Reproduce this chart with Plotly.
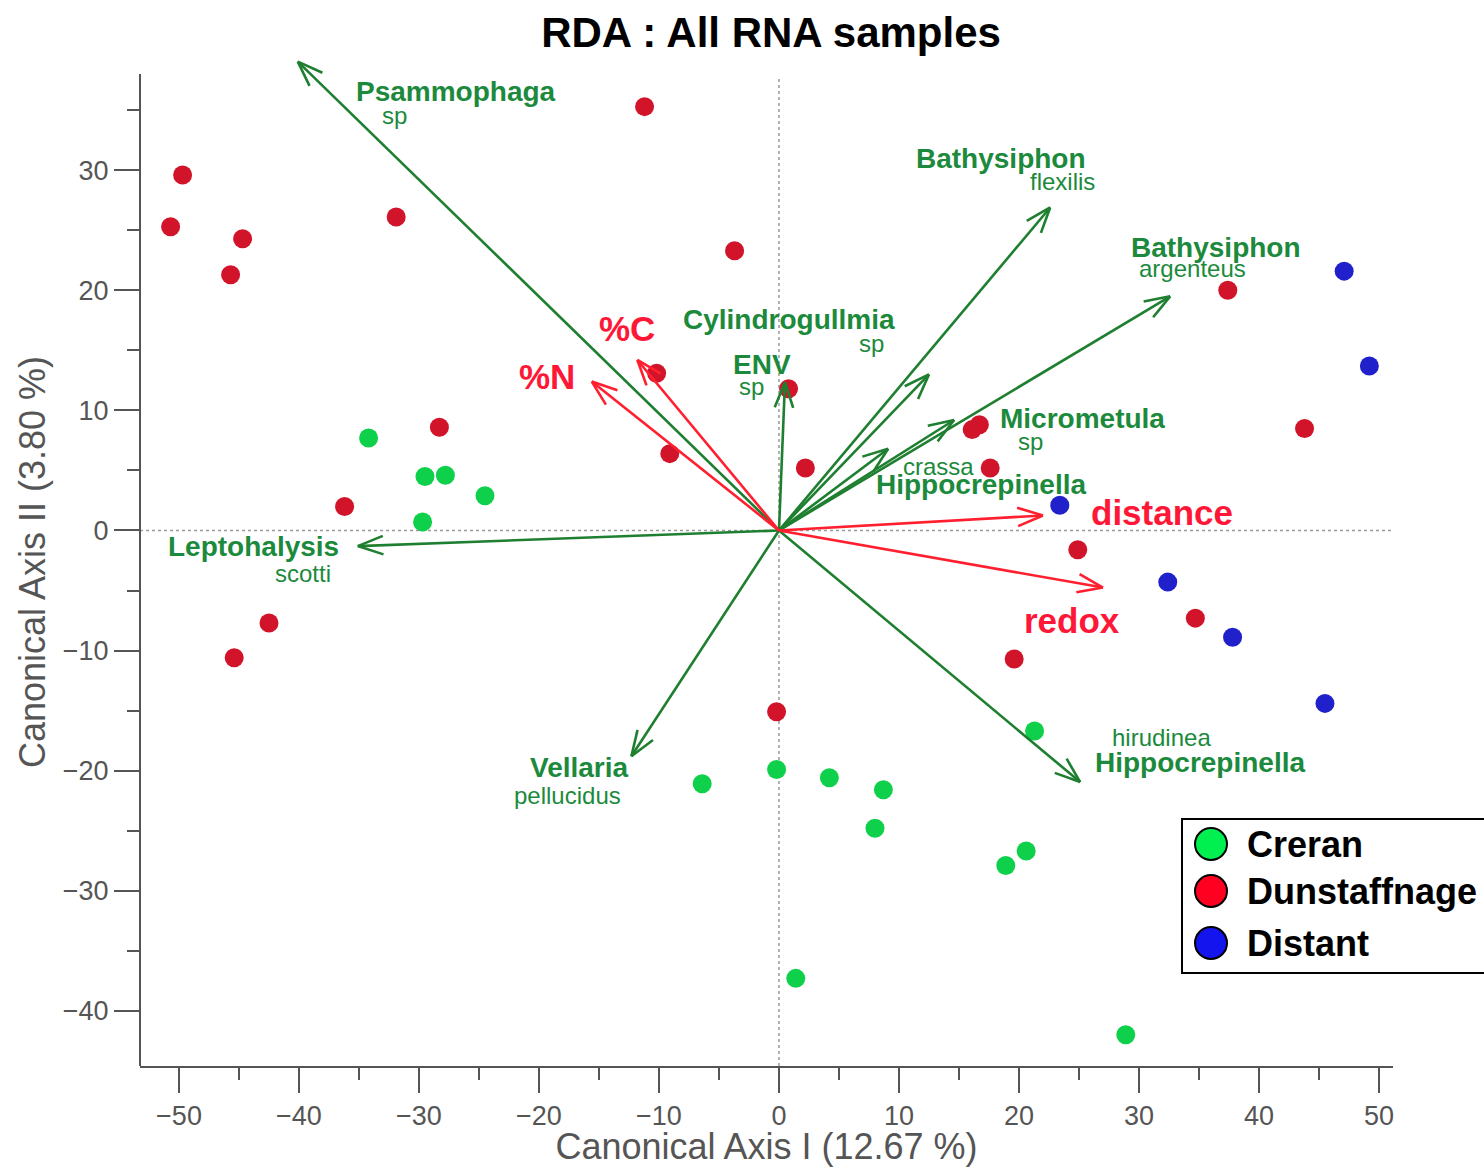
import math
import plotly.graph_objects as go

# ---------------- data ----------------
categories = ["Creran", "Dunstaffnage", "Distant"]

creran_x = [-34.2, -29.5, -27.8, -24.5, -29.7, -6.4, -0.2, 4.2, 8.7, 8.0, 21.3, 18.9, 20.6, 1.4, 28.9]
creran_y = [7.7, 4.5, 4.6, 2.9, 0.7, -21.1, -19.9, -20.6, -21.6, -24.8, -16.7, -27.9, -26.7, -37.3, -42.0]

dun_x = [-49.7, -50.7, -44.7, -45.7, -31.9, -11.2, -3.7, -10.2, 0.8, -28.3, -9.1, 2.2,
         16.1, 16.7, 17.6, 37.4, 43.8, 24.9, 34.7, 19.6, -0.2, -36.2, -42.5, -45.4]
dun_y = [29.6, 25.3, 24.3, 21.3, 26.1, 35.3, 23.3, 13.1, 11.8, 8.6, 6.4, 5.2,
         8.4, 8.8, 5.2, 20.0, 8.5, -1.6, -7.3, -10.7, -15.1, 2.0, -7.7, -10.6]

dist_x = [47.1, 49.2, 23.4, 32.4, 37.8, 45.5]
dist_y = [21.6, 13.7, 2.1, -4.3, -8.9, -14.4]

# species arrows (biplot scores)
species_genus = ["Psammophaga", "Bathysiphon", "Bathysiphon", "Cylindrogullmia", "ENV",
                 "Micrometula", "Hippocrepinella", "Leptohalysis", "Vellaria", "Hippocrepinella"]
species_epithet = ["sp", "flexilis", "argenteus", "sp", "sp",
                   "sp", "crassa", "scotti", "pellucidus", "hirudinea"]
species_x = [-40.1, 22.6, 32.6, 12.5, 0.5, 14.6, 9.1, -35.1, -12.3, 25.1]
species_y = [39.05, 26.9, 19.5, 13.0, 12.35, 9.2, 6.8, -1.3, -18.8, -20.95]

# environmental arrows
env_names = ["%N", "%C", "distance", "redox"]
env_x = [-15.6, -11.8, 22.0, 27.0]
env_y = [12.4, 14.2, 1.25, -4.75]

x_ticks = [-50, -40, -30, -20, -10, 0, 10, 20, 30, 40, 50]
y_ticks = [-40, -30, -20, -10, 0, 10, 20, 30]

# ---------------- styles / layout helpers ----------------
GREEN_ARROW = "#1f7f30"
GREEN_TEXT = "#1c8a3c"
RED_ARROW = "#ff1f2e"
RED_TEXT = "#ff1738"
AXIS_GREY = "#555555"
FONT = "Liberation Sans, Arial, sans-serif"

point_colors = {"Creran": "#0fd04a", "Dunstaffnage": "#d2142a", "Distant": "#2121cc"}
legend_colors = {"Creran": "#00f050", "Dunstaffnage": "#ff0020", "Distant": "#1414ee"}

# label placement (data coords): (genus pos, epithet pos)
species_label_pos = [
    ((-26.9, 36.6), (-32.0, 34.6)),
    ((18.5, 31.0), (23.6, 29.1)),
    ((36.4, 23.6), (34.5, 21.8)),
    ((0.8, 17.6), (7.7, 15.6)),
    ((-1.4, 13.8), (-2.3, 12.0)),
    ((25.3, 9.3), (21.0, 7.4)),
    ((16.8, 3.8), (13.3, 5.3)),
    ((-43.8, -1.3), (-39.7, -3.6)),
    ((-16.6, -19.7), (-17.6, -22.1)),
    ((35.1, -19.3), (31.9, -17.2)),
]
env_label_pos = [(-19.3, 12.8), (-12.7, 16.8), (31.9, 1.5), (24.4, -7.5)]

HEAD_LEN = 2.25      # arrowhead barb length (axis units)
HEAD_ANG = math.radians(20)


def arrow_path(xs, ys):
    px, py = [], []
    for x, y in zip(xs, ys):
        px += [0, x, None]
        py += [0, y, None]
        ang = math.atan2(y, x)
        for s in (1, -1):
            a = ang + math.pi + s * HEAD_ANG
            px += [x, x + HEAD_LEN * math.cos(a), None]
            py += [y, y + HEAD_LEN * math.sin(a), None]
    return px, py


fig = go.Figure()

plot_l, plot_r, plot_t, plot_b = 140, 1393, 58, 1066
pw, ph = plot_r - plot_l, plot_b - plot_t


def px2paper_x(p):
    return (p - plot_l) / pw


def px2paper_y(p):
    return (plot_b - p) / ph


# dotted zero lines
fig.add_shape(type="line", xref="x", yref="paper", x0=0, x1=0, y0=0, y1=px2paper_y(78),
              line=dict(color="#9a9a9a", width=1.5, dash="dot"), layer="below")
fig.add_shape(type="line", xref="paper", yref="y", x0=0, x1=1, y0=0, y1=0,
              line=dict(color="#9a9a9a", width=1.5, dash="dot"), layer="below")
# left axis line (stops below the top of the plotting region, as in the original)
fig.add_shape(type="line", xref="paper", yref="paper", x0=0, x1=0, y0=0, y1=px2paper_y(74),
              line=dict(color=AXIS_GREY, width=2), layer="above")

# sample points
for name, xs, ys in [("Creran", creran_x, creran_y),
                     ("Dunstaffnage", dun_x, dun_y),
                     ("Distant", dist_x, dist_y)]:
    fig.add_trace(go.Scatter(x=xs, y=ys, mode="markers", name=name, showlegend=False,
                             marker=dict(size=19, color=point_colors[name])))

# arrows
gx, gy = arrow_path(species_x, species_y)
fig.add_trace(go.Scatter(x=gx, y=gy, mode="lines", showlegend=False, hoverinfo="skip",
                         line=dict(color=GREEN_ARROW, width=2.6)))
rx, ry = arrow_path(env_x, env_y)
fig.add_trace(go.Scatter(x=rx, y=ry, mode="lines", showlegend=False, hoverinfo="skip",
                         line=dict(color=RED_ARROW, width=2.6)))

annotations = []
for g, e, (gp, ep) in zip(species_genus, species_epithet, species_label_pos):
    annotations.append(dict(x=gp[0], y=gp[1], xref="x", yref="y", text=f"<b>{g}</b>",
                            showarrow=False, font=dict(family=FONT, size=28, color=GREEN_TEXT)))
    annotations.append(dict(x=ep[0], y=ep[1], xref="x", yref="y", text=e,
                            showarrow=False, font=dict(family=FONT, size=24, color=GREEN_TEXT)))
for n, p in zip(env_names, env_label_pos):
    annotations.append(dict(x=p[0], y=p[1], xref="x", yref="y", text=f"<b>{n}</b>",
                            showarrow=False, font=dict(family=FONT, size=35, color=RED_TEXT)))

# legend (drawn manually to match big outlined symbols)
shapes = []
leg_left_px, leg_right_px, leg_top_px, leg_bot_px = 1182, 1495, 819, 973

shapes.append(dict(type="rect", xref="paper", yref="paper",
                   x0=px2paper_x(leg_left_px), x1=px2paper_x(leg_right_px),
                   y0=px2paper_y(leg_bot_px), y1=px2paper_y(leg_top_px),
                   line=dict(color="black", width=2), fillcolor="white", layer="above"))
leg_rows_px = [844, 891, 943]
for cat, rowp in zip(categories, leg_rows_px):
    shapes.append(dict(type="circle", xref="paper", yref="paper",
                       xsizemode="pixel", ysizemode="pixel",
                       xanchor=px2paper_x(1211), yanchor=px2paper_y(rowp),
                       x0=-16, x1=16, y0=-16, y1=16,
                       line=dict(color="black", width=2), fillcolor=legend_colors[cat], layer="above"))
    annotations.append(dict(x=px2paper_x(1245), y=px2paper_y(rowp), xref="paper", yref="paper",
                            xanchor="left", yanchor="middle", showarrow=False,
                            text=f"<b>{cat}</b>", font=dict(family=FONT, size=36, color="black")))

for s in shapes:
    fig.add_shape(**s)

axis_common = dict(showgrid=False, zeroline=False, automargin=False,
                   ticks="outside", ticklen=25, tickwidth=2, tickcolor=AXIS_GREY,
                   tickfont=dict(family=FONT, size=27, color=AXIS_GREY),
                   minor=dict(ticks="outside", ticklen=12, tickwidth=2, tickcolor=AXIS_GREY, dtick=5),
                   mirror=False)

fig.update_layout(
    width=1484, height=1167,
    margin=dict(l=plot_l, r=1484 - plot_r, t=plot_t, b=1167 - plot_b),
    paper_bgcolor="white", plot_bgcolor="white",
    title=dict(text="<b>RDA : All RNA samples</b>", x=771 / 1484, xref="container", xanchor="center",
               y=1 - 32 / 1167, yref="container", yanchor="middle",
               font=dict(family=FONT, size=42, color="black")),
    xaxis=dict(range=[-53.25, 51.17], tickvals=x_ticks, showline=True, linecolor=AXIS_GREY,
               linewidth=2, **axis_common,
               title=dict(text="Canonical Axis I (12.67 %)", standoff=4,
                          font=dict(family=FONT, size=36, color=AXIS_GREY))),
    yaxis=dict(range=[-44.6, 39.35], tickvals=y_ticks, showline=False, **axis_common,
               title=dict(text="Canonical Axis II (3.80 %)", standoff=6,
                          font=dict(family=FONT, size=36, color=AXIS_GREY))),
    annotations=annotations,
    showlegend=False,
)

fig.write_html("out.html")
